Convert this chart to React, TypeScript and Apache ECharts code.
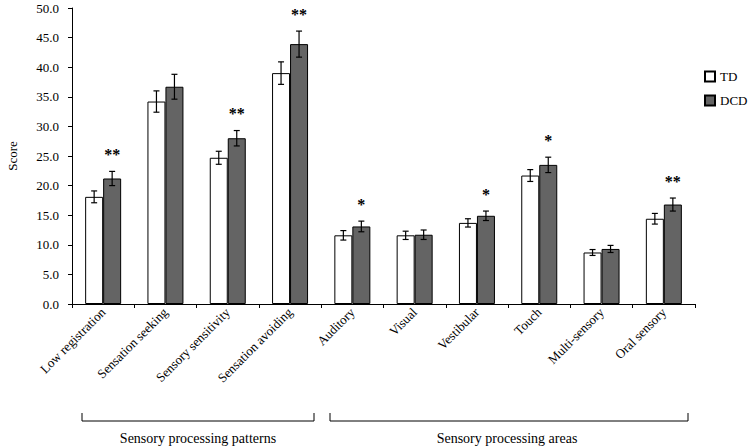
import React, { useEffect, useRef } from "react";
import * as echarts from "echarts";

const categories = [
  "Low registration",
  "Sensation seeking",
  "Sensory sensitivity",
  "Sensation avoiding",
  "Auditory",
  "Visual",
  "Vestibular",
  "Touch",
  "Multi-sensory",
  "Oral sensory",
];
const tdValues = [18.1, 34.2, 24.7, 39.0, 11.6, 11.6, 13.7, 21.7, 8.7, 14.4];
const tdErrors = [1.0, 1.8, 1.1, 1.9, 0.8, 0.7, 0.7, 1.0, 0.5, 0.9];
const dcdValues = [21.2, 36.7, 28.0, 43.9, 13.1, 11.7, 14.9, 23.5, 9.3, 16.8];
const dcdErrors = [1.2, 2.1, 1.3, 2.2, 0.9, 0.8, 0.8, 1.3, 0.6, 1.1];
const significance = ["**", "", "**", "**", "*", "", "*", "*", "", "**"];
const groupLabels = ["Sensory processing patterns", "Sensory processing areas"];

const FONT = "Liberation Serif";
const BAR_W = 18;

function errSeries(name: string, values: number[], errors: number[], offset: number, sig: string[] | null) {
  return {
    type: "custom",
    name,
    z: 5,
    silent: true,
    data: values.map((v, i) => [i, v, errors[i]]),
    renderItem: (params: any, api: any) => {
      const idx = api.value(0);
      const v = api.value(1);
      const e = api.value(2);
      const s = sig ? sig[params.dataIndex] : "";
      const top = api.coord([idx, v + e]);
      const bot = api.coord([idx, v - e]);
      const x = top[0] + offset;
      const cap = 3;
      const st = { stroke: "#000", lineWidth: 1.2 };
      const children: any[] = [
        { type: "line", shape: { x1: x, y1: top[1], x2: x, y2: bot[1] }, style: st },
        { type: "line", shape: { x1: x - cap, y1: top[1], x2: x + cap, y2: top[1] }, style: st },
        { type: "line", shape: { x1: x - cap, y1: bot[1], x2: x + cap, y2: bot[1] }, style: st },
      ];
      if (s) {
        children.push({
          type: "text",
          style: {
            text: s,
            x,
            y: top[1] - 9,
            align: "center",
            verticalAlign: "bottom",
            fill: "#000",
            fontFamily: FONT,
            fontSize: 16,
            fontWeight: "bold",
          },
        });
      }
      return { type: "group", children };
    },
  };
}

export default function App() {
  const ref = useRef<HTMLDivElement>(null);
  useEffect(() => {
    document.body.style.margin = "0";
    const chart = echarts.init(ref.current!, null, { renderer: "svg" });
    chart.setOption({
      animation: false,
      backgroundColor: "#fff",
      textStyle: { fontFamily: FONT, color: "#000" },
      grid: { left: 72, right: 55, top: 8, bottom: 142, containLabel: false, outerBoundsMode: "none" },
      legend: {
        data: ["TD", "DCD"],
        orient: "vertical",
        left: 704,
        top: 70,
        padding: 0,
        itemWidth: 10,
        itemHeight: 10,
        itemGap: 11,
        icon: "rect",
        textStyle: { fontFamily: FONT, fontSize: 13, color: "#000" },
      },
      xAxis: {
        type: "category",
        data: categories,
        axisLine: { lineStyle: { color: "#000", width: 1 } },
        axisTick: { show: true, length: 4, lineStyle: { color: "#000" } },
        axisLabel: {
          interval: 0,
          rotate: 45,
          margin: 6,
          fontSize: 13,
          fontFamily: FONT,
          color: "#000",
        },
      },
      yAxis: {
        type: "value",
        min: 0,
        max: 50,
        interval: 5,
        name: "Score",
        nameLocation: "middle",
        nameGap: 53,
        nameTextStyle: { fontFamily: FONT, fontSize: 13, color: "#000" },
        splitLine: { show: false },
        axisLine: { show: true, lineStyle: { color: "#000", width: 1 } },
        axisTick: { show: true, length: 4, lineStyle: { color: "#000" } },
        axisLabel: {
          formatter: (v: number) => v.toFixed(1),
          fontSize: 13,
          fontFamily: FONT,
          color: "#000",
          margin: 13,
        },
      },
      series: [
        {
          type: "bar",
          name: "TD",
          data: tdValues,
          barWidth: BAR_W,
          barGap: "0%",
          itemStyle: { color: "#ffffff", borderColor: "#000", borderWidth: 1 },
        },
        {
          type: "bar",
          name: "DCD",
          data: dcdValues,
          barWidth: BAR_W,
          barGap: "0%",
          itemStyle: { color: "#646464", borderColor: "#000", borderWidth: 1 },
        },
        errSeries("TD err", tdValues, tdErrors, -BAR_W / 2, null),
        errSeries("DCD err", dcdValues, dcdErrors, BAR_W / 2, significance),
      ],
      graphic: [
        {
          type: "polyline",
          shape: { points: [[82, 413], [82, 421], [314, 421], [314, 413]] },
          style: { stroke: "#000", lineWidth: 1, fill: "none" },
        },
        {
          type: "polyline",
          shape: { points: [[330, 413], [330, 421], [688, 421], [688, 413]] },
          style: { stroke: "#000", lineWidth: 1, fill: "none" },
        },
        {
          type: "text",
          x: 198,
          y: 438,
          style: { text: groupLabels[0], align: "center", verticalAlign: "middle", fontFamily: FONT, fontSize: 14, fill: "#000" },
        },
        {
          type: "text",
          x: 507,
          y: 438,
          style: { text: groupLabels[1], align: "center", verticalAlign: "middle", fontFamily: FONT, fontSize: 14, fill: "#000" },
        },
      ],
    });
    return () => chart.dispose();
  }, []);
  return <div ref={ref} style={{ width: 750, height: 446 }} />;
}
